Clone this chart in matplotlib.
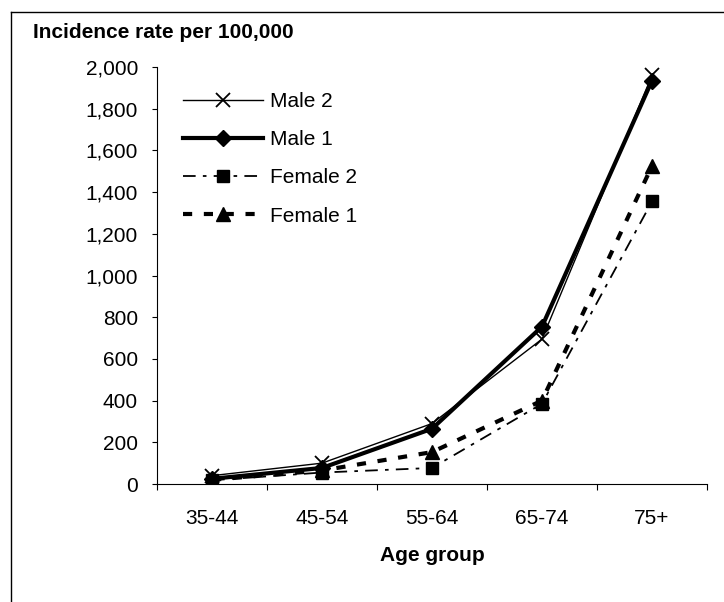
import matplotlib.pyplot as plt
from matplotlib.lines import Line2D
from matplotlib.ticker import FuncFormatter

plt.rcParams['font.family'] = ['Liberation Sans', 'DejaVu Sans']

# Data
age_groups = ['35-44', '45-54', '55-64', '65-74', '75+']
male2 = [40, 100, 290, 695, 1960]
male1 = [25, 77, 265, 755, 1935]
female2 = [18, 55, 77, 385, 1355]
female1 = [20, 65, 153, 400, 1525]

fig = plt.figure(figsize=(7.24, 6.02), dpi=100)
ax = fig.add_axes([157/724, 1-484/602, 550/724, 417/602])

x = range(len(age_groups))
ax.plot(x, male2, color='black', lw=1.0, marker='x', ms=10, mew=1.3, label='Male 2')
ax.plot(x, male1, color='black', lw=3.0, marker='D', ms=8, label='Male 1')
ax.plot(x, female2, color='black', lw=1.3, marker='s', ms=9,
        dashes=(7, 4, 2, 4), label='Female 2')
ax.plot(x, female1, color='black', lw=3.0, marker='^', ms=10,
        dashes=(2.2, 2.8), label='Female 1')

ax.set_xlim(-0.5, len(age_groups) - 0.5)
ax.set_ylim(0, 2000)
ax.set_yticks(range(0, 2001, 200))
ax.yaxis.set_major_formatter(FuncFormatter(lambda v, p: f'{int(v):,}'))

# category ticks sit between groups, labels in the middle
ax.set_xticks([i - 0.5 for i in range(len(age_groups) + 1)])
ax.set_xticklabels([])
ax.set_xticks(list(x), minor=True)
ax.set_xticklabels(age_groups, minor=True)
ax.tick_params(axis='x', which='minor', length=0, pad=18, labelsize=15)
ax.tick_params(axis='x', which='major', length=4.5, direction='out')
ax.tick_params(axis='y', length=3.6, direction='out', labelsize=15, pad=10)

for s in ['top', 'right']:
    ax.spines[s].set_visible(False)

ax.set_xlabel('Age group', fontsize=15, fontweight='bold', labelpad=13)
fig.text(33/724, 1-32/602, 'Incidence rate per 100,000', fontsize=15,
         fontweight='bold', ha='left', va='center')

ax.legend(loc='upper left', bbox_to_anchor=(183/724, 1-92/602),
          bbox_transform=fig.transFigure, frameon=False, fontsize=15,
          handlelength=3.85, handletextpad=0.35, labelspacing=0.92,
          borderpad=0, borderaxespad=0)

# outer frame (only top and left visible in the crop)
fig.add_artist(Line2D([11/724, 11/724], [0, 1-12/602], color='black', lw=1))
fig.add_artist(Line2D([11/724, 1], [1-12/602, 1-12/602], color='black', lw=1))

fig.savefig('out.png', dpi=100)
